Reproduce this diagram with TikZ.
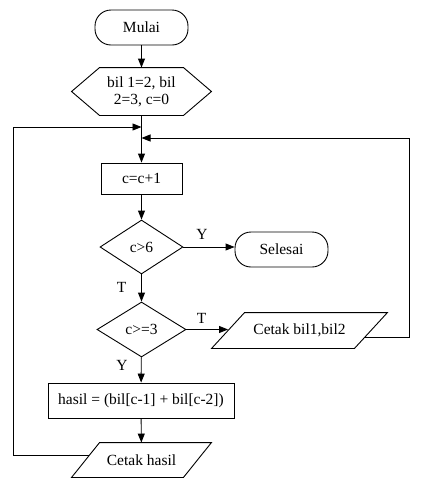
\documentclass[tikz,border=0pt]{standalone}
\usepackage{fontspec}
\setmainfont{Liberation Serif}
\usetikzlibrary{arrows.meta,shapes.geometric,calc}
\begin{document}
\begin{tikzpicture}[x=1pt,y=-1pt,line width=0.9pt,
  every node/.style={font=\fontsize{15.5}{17}\selectfont, inner sep=0pt},
  term/.style={draw, rectangle, rounded corners=16pt, minimum width=93pt, minimum height=35pt},
  proc/.style={draw, rectangle},
  dec/.style={draw, diamond, aspect=1.6},
  arr/.style={-{Triangle[length=9pt,width=7pt]}}]
\useasboundingbox (0,0) rectangle (422,488);

\node[term] (m) at (141.5,27.5) {Mulai};
\node[minimum width=139pt, minimum height=47pt, align=center] (h) at (141.5,91.5) {bil 1=2, bil\\2=3, c=0};
\draw (h.west) -- ([xshift=28pt]h.north west) -- ([xshift=-28pt]h.north east) -- (h.east)
  -- ([xshift=-28pt]h.south east) -- ([xshift=28pt]h.south west) -- cycle;
\node[proc, minimum width=81pt, minimum height=31pt] (c1) at (141.5,178.5) {c=c+1};
\node[dec, minimum width=83pt, minimum height=54pt] (d1) at (141.5,247) {c>6};
\node[term] (sel) at (281.5,249.5) {Selesai};
\node[dec, minimum width=89pt, minimum height=55pt] (d2) at (141.5,329.5) {c>=3};
\node[minimum width=175pt, minimum height=35pt] (cb) at (299.5,330.5) {Cetak bil1,bil2};
\draw ([xshift=33pt]cb.north west) -- (cb.north east) -- ([xshift=-33pt]cb.south east) -- (cb.south west) -- cycle;
\node[proc, minimum width=186pt, minimum height=35pt] (hs) at (141,400.5) {hasil = (bil[c-1] + bil[c-2])};
\node[minimum width=139pt, minimum height=34pt] (ch) at (141.5,460) {Cetak hasil};
\draw ([xshift=28pt]ch.north west) -- (ch.north east) -- ([xshift=-28pt]ch.south east) -- (ch.south west) -- cycle;

\node (y1) at (202,234) {Y};
\node (t1) at (121.5,287) {T};
\node (t2) at (201.5,318) {T};
\node (y2) at (122,365) {Y};

\coordinate (jl) at (141.5,127);
\coordinate (jr) at (141.5,138);
\coordinate (L) at (13,0);
\coordinate (R) at (409.5,0);
\coordinate (cbx) at ($([xshift=-33pt]cb.south east)!0.31!(cb.north east)$);
\coordinate (cbw) at ($(cb.south west)!0.5!([xshift=33pt]cb.north west)$);
\coordinate (chx) at ($(ch.south west)!0.62!([xshift=28pt]ch.north west)$);

\draw[arr] (m) -- (h);
\draw[arr] (h) -- (c1);
\draw[arr] (c1) -- (d1);
\draw[arr] (d1.east) -- (d1.east -| sel.west);
\draw[arr] (d1) -- (d2);
\draw[arr] (d2.east) -- (d2.east -| cbw);
\draw[arr] (d2) -- (hs);
\draw[arr] (hs) -- (ch);
\draw[arr] (cbx) -- (cbx -| R) -- (R |- jr) -- (jr);
\draw[arr] (chx) -- (chx -| L) -- (L |- jl) -- (jl);
\end{tikzpicture}
\end{document}
